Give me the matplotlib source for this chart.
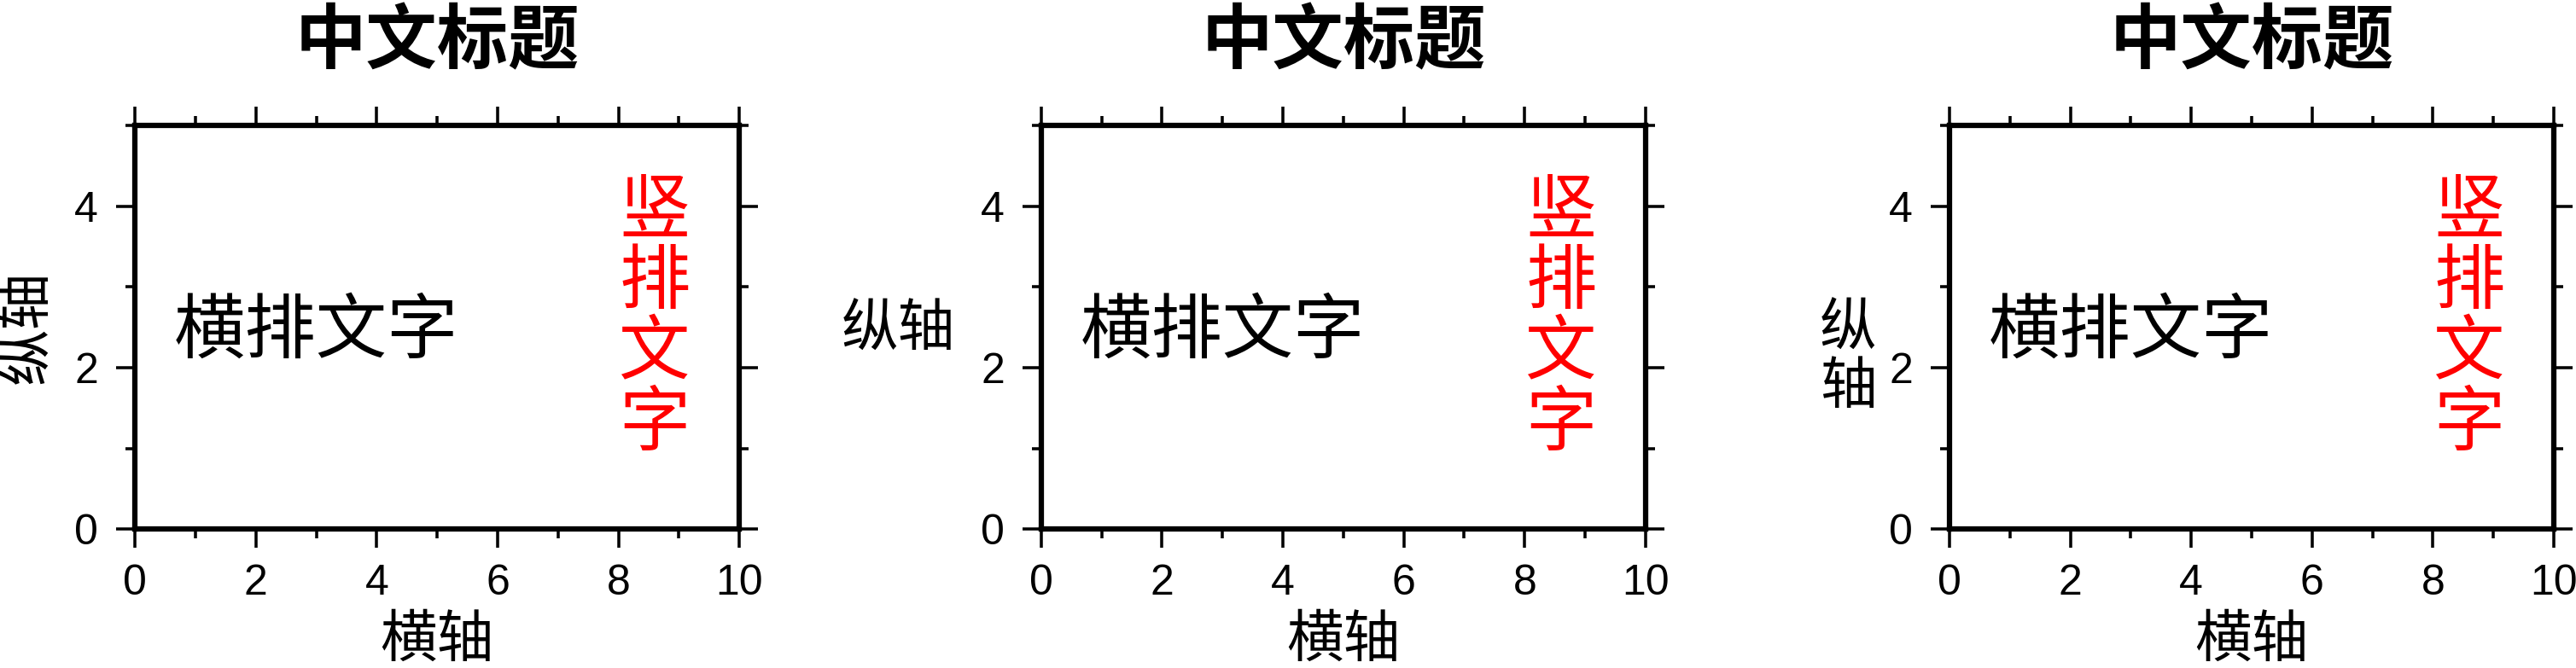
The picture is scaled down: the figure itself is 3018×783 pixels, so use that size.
import matplotlib
matplotlib.use("Agg")
import matplotlib.pyplot as plt
from matplotlib.ticker import MultipleLocator

plt.rcParams['font.family'] = ['Liberation Sans', 'Noto Sans CJK SC', 'DejaVu Sans']

## 데이터 (차트 내용)
titles = ['中文标题', '中文标题', '中文标题']
xlabels = ['横轴', '横轴', '横轴']
ylabels = ['纵轴', '纵轴', '纵\n轴']
ylabel_rot = [90, 0, 0]
x_range = [0, 10]
y_range = [0, 5]
x_major = [0, 2, 4, 6, 8, 10]
y_major = [0, 2, 4]
h_text = '横排文字'
h_pos = [3.0, 2.45]
v_text = '竖\n排\n文\n字'
v_pos = [8.6, 2.62]

# 레이아웃 (figure fraction)
lefts = [0.0524, 0.4042, 0.7568]
ylabel_xy = [(-0.178, 0.5), (-0.236, 0.493), (-0.168, 0.423)]

fig = plt.figure(figsize=(3018 / 300, 783 / 300), dpi=300)

for i in range(3):
    ax = fig.add_axes([lefts[i], 0.208, 0.2346, 0.604])
    ax.set_xlim(x_range)
    ax.set_ylim(y_range)
    ax.set_xticks(x_major)
    ax.set_yticks(y_major)
    ax.xaxis.set_minor_locator(MultipleLocator(1))
    ax.yaxis.set_minor_locator(MultipleLocator(1))
    ax.tick_params(which='both', direction='out', top=True, right=True,
                   width=0.85, labelsize=12, colors='black')
    ax.tick_params(which='major', length=5.3)
    ax.tick_params(which='minor', length=2.6)
    ax.tick_params(axis='y', pad=5.0)
    ax.tick_params(axis='x', pad=4.6)
    for s in ax.spines.values():
        s.set_linewidth(1.5)

    # 제목, 축 이름
    ax.text(0.5, 1.205, titles[i], transform=ax.transAxes, ha='center', va='center',
            fontsize=20, fontweight='bold', family='Noto Sans CJK SC')
    ax.text(0.5, -0.277, xlabels[i], transform=ax.transAxes, ha='center', va='center',
            fontsize=16, family='Noto Sans CJK SC')
    ax.text(ylabel_xy[i][0], ylabel_xy[i][1], ylabels[i], transform=ax.transAxes,
            ha='center', va='center', fontsize=16, rotation=ylabel_rot[i],
            linespacing=1.0, family='Noto Sans CJK SC')

    # 본문 텍스트
    ax.text(h_pos[0], h_pos[1], h_text, ha='center', va='center', fontsize=20,
            family='Noto Sans CJK SC')
    ax.text(v_pos[0], v_pos[1], v_text, ha='center', va='center', fontsize=20,
            color='red', linespacing=0.95, family='Noto Sans CJK SC')

plt.savefig('out.png', dpi=300)
